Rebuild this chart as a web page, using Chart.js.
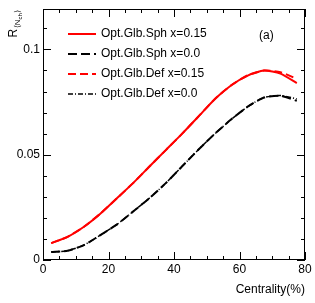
<!DOCTYPE html>
<html lang="en">
<head>
  <meta charset="UTF-8" />
  <title>R vs Centrality</title>
  <script src="https://cdn.jsdelivr.net/npm/chart.js"></script>
  <style>
    * { margin: 0; padding: 0; box-sizing: border-box; }
    body { background: #fff; width: 315px; height: 303px; overflow: hidden; }
    canvas { display: block; }
  </style>
</head>
<body>
  <canvas id="chart" width="315" height="303"></canvas>

  <script>
    // centrality bin centres (%)
    const centrality = [2.5, 7.5, 12.5, 17.5, 22.5, 27.5, 32.5, 37.5, 42.5, 47.5, 52.5, 57.5, 62.5, 67.5, 72.5, 77.5];
    const sphX015 = [0.0080, 0.0110, 0.0158, 0.0220, 0.0292, 0.0365, 0.0444, 0.0522, 0.0600, 0.0682, 0.0765, 0.0830, 0.0876, 0.0900, 0.0885, 0.0840];
    const sphX000 = [0.0038, 0.0044, 0.0071, 0.0118, 0.0168, 0.0230, 0.0294, 0.0365, 0.0445, 0.0525, 0.0600, 0.0668, 0.0728, 0.0772, 0.0780, 0.0756];
    const defX015 = [0.0080, 0.0110, 0.0158, 0.0220, 0.0292, 0.0365, 0.0444, 0.0522, 0.0600, 0.0682, 0.0765, 0.0830, 0.0877, 0.0900, 0.0892, 0.0860];
    const defX000 = [0.0038, 0.0044, 0.0071, 0.0118, 0.0168, 0.0230, 0.0294, 0.0365, 0.0445, 0.0525, 0.0600, 0.0668, 0.0728, 0.0772, 0.0781, 0.0765];
    const labels = ['Opt.Glb.Sph x=0.15', 'Opt.Glb.Sph x=0.0', 'Opt.Glb.Def x=0.15', 'Opt.Glb.Def x=0.0'];
    const xTicks = [0, 20, 40, 60, 80];
    const yTicks = [0, 0.05, 0.1];
    const yTickText = ['0', '0.05', '0.1'];

    const FONT = '12px "Liberation Sans", Arial, sans-serif';
    const pts = arr => arr.map((v, i) => ({ x: centrality[i], y: v }));

    // ROOT-style frame, inside ticks, labels, legend
    const frame = {
      id: 'frame',
      afterDraw(chart) {
        const c = chart.ctx, a = chart.chartArea;
        const xs = chart.scales.x, ys = chart.scales.y;
        c.save();
        c.strokeStyle = '#000';
        c.lineWidth = 1;
        c.strokeRect(a.left + 0.5, a.top + 0.5, a.right - a.left - 1, a.bottom - a.top - 1);

        c.beginPath();
        for (let v = 0; v <= 80; v += 5) {
          const px = Math.round(xs.getPixelForValue(v)) + 0.5;
          const len = v % 20 === 0 ? 8 : 4;
          c.moveTo(px, a.bottom); c.lineTo(px, a.bottom - len);
          c.moveTo(px, a.top); c.lineTo(px, a.top + len);
        }
        for (let k = 0; k <= 11; k++) {
          const v = k * 0.01;
          const py = Math.round(ys.getPixelForValue(v)) + 0.5;
          const len = k % 5 === 0 ? 8 : 4;
          c.moveTo(a.left, py); c.lineTo(a.left + len, py);
          c.moveTo(a.right, py); c.lineTo(a.right - len, py);
        }
        c.stroke();

        c.fillStyle = '#000';
        c.font = FONT;
        c.textAlign = 'center';
        c.textBaseline = 'alphabetic';
        xTicks.forEach(v => c.fillText(String(v), xs.getPixelForValue(v), a.bottom + 13));
        c.textAlign = 'right';
        c.textBaseline = 'middle';
        yTicks.forEach((v, i) => c.fillText(yTickText[i], a.left - 3, ys.getPixelForValue(v)));

        c.textAlign = 'right';
        c.textBaseline = 'alphabetic';
        c.fillText('Centrality(%)', a.right, 293);
        c.textAlign = 'left';
        c.fillText('(a)', 259, 39);

        // y title R_<N_ch>
        c.save();
        c.translate(17, 0);
        c.rotate(-Math.PI / 2);
        c.textAlign = 'left';
        c.textBaseline = 'alphabetic';
        c.font = FONT;
        c.fillText('R', -37.5, 0);
        let u = -37.5 + c.measureText('R').width + 0.5;
        c.font = '8px "Liberation Sans", Arial, sans-serif';
        c.fillText('\u27E8N', u, 3);
        u += c.measureText('\u27E8N').width;
        c.font = '6px "Liberation Sans", Arial, sans-serif';
        c.fillText('ch', u, 5);
        u += c.measureText('ch').width;
        c.font = '8px "Liberation Sans", Arial, sans-serif';
        c.fillText('\u27E9', u, 3);
        c.restore();

        // legend
        chart.data.datasets.forEach((ds, i) => {
          const y = 34 + i * 20;
          c.beginPath();
          c.strokeStyle = ds.borderColor;
          c.lineWidth = ds.borderWidth;
          c.setLineDash(ds.borderDash || []);
          c.moveTo(68, y); c.lineTo(96, y);
          c.stroke();
          c.setLineDash([]);
          c.fillStyle = '#000';
          c.textBaseline = 'middle';
          c.textAlign = 'left';
          c.fillText(labels[i], 101, y);
        });
        c.restore();
      }
    };

    const hiddenAxis = {
      type: 'linear',
      ticks: { display: false, padding: 0 },
      grid: { display: false, drawTicks: false, tickLength: 0 },
      border: { display: false }
    };

    new Chart(document.getElementById('chart'), {
      type: 'line',
      data: {
        datasets: [
          { data: pts(sphX015), borderColor: '#ff0000', borderWidth: 2, borderDash: [] },
          { data: pts(sphX000), borderColor: '#000000', borderWidth: 2, borderDash: [9, 4] },
          { data: pts(defX015), borderColor: '#ff0000', borderWidth: 2, borderDash: [8, 4] },
          { data: pts(defX000), borderColor: '#000000', borderWidth: 1.5, borderDash: [5, 2, 1, 2] }
        ]
      },
      options: {
        responsive: false,
        animation: false,
        devicePixelRatio: 1,
        layout: { padding: { left: 43, right: 10, top: 9, bottom: 43 } },
        elements: { point: { radius: 0 }, line: { tension: 0.2, fill: false } },
        plugins: { legend: { display: false }, tooltip: { enabled: false } },
        scales: {
          x: Object.assign({}, hiddenAxis, { min: 0, max: 80 }),
          y: Object.assign({}, hiddenAxis, { min: 0, max: 0.1192 })
        }
      },
      plugins: [frame]
    });
  </script>
</body>
</html>
